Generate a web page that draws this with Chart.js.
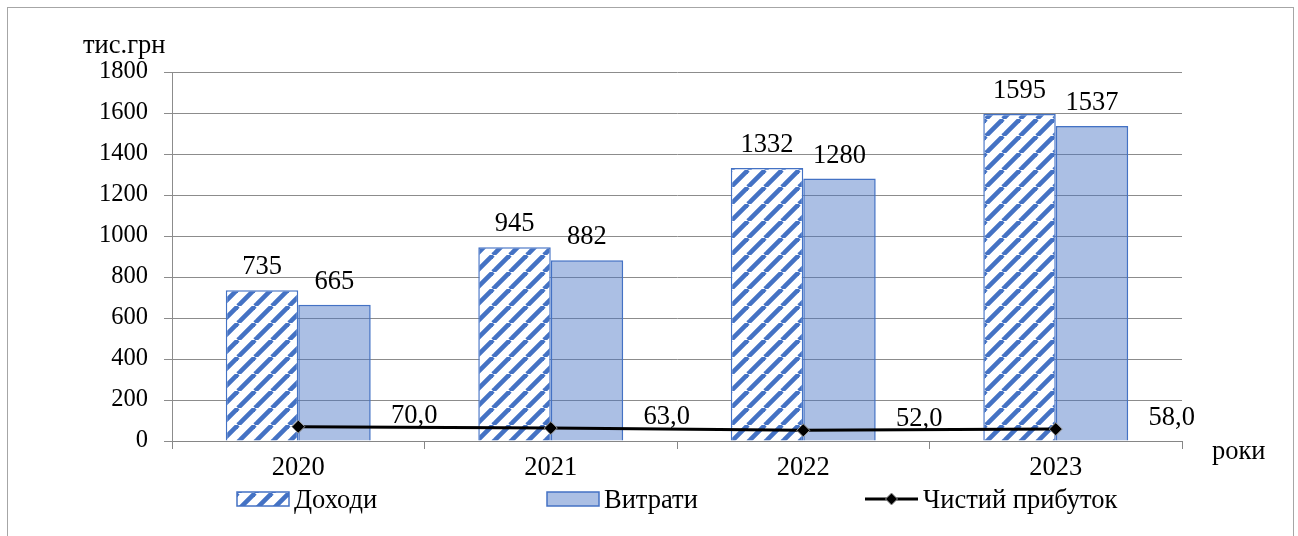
<!DOCTYPE html>
<html>
<head>
<meta charset="utf-8">
<script src="https://cdn.jsdelivr.net/npm/chart.js@4/dist/chart.umd.min.js"></script>
<style>
html,body{margin:0;padding:0;background:#fff;}
#wrap{width:1298px;height:536px;position:relative;}
</style>
</head>
<body>
<div id="wrap"><canvas id="c" width="1298" height="536"></canvas></div>
<script>
const categories = ['2020', '2021', '2022', '2023'];
const incomeLabel = 'Доходи';
const expenseLabel = 'Витрати';
const profitLabel = 'Чистий прибуток';
const incomes = [735, 945, 1332, 1595];
const expenses = [665, 882, 1280, 1537];
const profit = [70.0, 63.0, 52.0, 58.0];
const yAxisTitle = 'тис.грн';
const xAxisTitle = 'роки';
const yMin = 0, yMax = 1800, yStep = 200;

const FONT = '"Liberation Serif", "Times New Roman", serif';
const BLUE = '#4472c4';

function makeStripes() {
  const s = 17;
  const c = document.createElement('canvas');
  c.width = s; c.height = s;
  const g = c.getContext('2d');
  g.fillStyle = '#ffffff';
  g.fillRect(0, 0, s, s);
  g.strokeStyle = BLUE;
  g.lineWidth = 4.6;
  for (const k of [-s, 0, s]) {
    g.beginPath();
    g.moveTo(k, s);
    g.lineTo(k + s, 0);
    g.stroke();
  }
  return g.createPattern(c, 'repeat');
}
const stripes = makeStripes();
const expenseFill = 'rgba(68,114,196,0.45)';

const decor = {
  id: 'decor',
  beforeDraw(chart) {
    const ctx = chart.ctx;
    ctx.save();
    ctx.fillStyle = '#fff';
    ctx.fillRect(0, 0, chart.width, chart.height);
    ctx.strokeStyle = '#a6a6a6';
    ctx.lineWidth = 1;
    ctx.strokeRect(7.5, 7.5, 1286, 560);
    ctx.restore();
  },
  afterDatasetsDraw(chart) {
    const ctx = chart.ctx;
    ctx.save();
    ctx.fillStyle = '#000';
    ctx.font = '26.5px ' + FONT;
    ctx.textAlign = 'center';
    ctx.textBaseline = 'alphabetic';
    [0, 1].forEach(di => {
      const meta = chart.getDatasetMeta(di);
      const ds = chart.data.datasets[di];
      meta.data.forEach((el, i) => {
        ctx.fillText(String(ds.data[i]), el.x, el.y - 16);
      });
    });
    const lm = chart.getDatasetMeta(2);
    const lds = chart.data.datasets[2];
    lm.data.forEach((el, i) => {
      ctx.fillText(lds.data[i].toFixed(1).replace('.', ','), el.x + 116, el.y - 4);
    });
    // axis titles
    ctx.font = '26.5px ' + FONT;
    ctx.textAlign = 'left';
    ctx.fillText(yAxisTitle, 83, 53);
    ctx.fillText(xAxisTitle, 1212, 459);
    // legend
    const ly = 499;
    ctx.font = '26.5px ' + FONT;
    ctx.textBaseline = 'middle';
    const items = [
      {x: 237, tx: 294, kind: 'bar', fill: stripes, text: chart.data.datasets[0].label},
      {x: 547, tx: 604, kind: 'bar', fill: expenseFill, text: chart.data.datasets[1].label},
      {x: 865, tx: 923, kind: 'line', text: chart.data.datasets[2].label}
    ];
    items.forEach(it => {
      if (it.kind === 'bar') {
        ctx.fillStyle = '#fff';
        ctx.fillRect(it.x, ly - 7, 52, 14);
        ctx.fillStyle = it.fill;
        ctx.fillRect(it.x, ly - 7, 52, 14);
        ctx.strokeStyle = BLUE;
        ctx.lineWidth = 1.5;
        ctx.strokeRect(it.x, ly - 7, 52, 14);
      } else {
        ctx.strokeStyle = '#000';
        ctx.lineWidth = 3;
        ctx.beginPath();
        ctx.moveTo(it.x, ly); ctx.lineTo(it.x + 53, ly);
        ctx.stroke();
        const cx = it.x + 26.5;
        ctx.fillStyle = '#000';
        ctx.strokeStyle = '#9a9a9a';
        ctx.lineWidth = 1;
        ctx.beginPath();
        ctx.moveTo(cx, ly - 6); ctx.lineTo(cx + 6, ly); ctx.lineTo(cx, ly + 6); ctx.lineTo(cx - 6, ly);
        ctx.closePath(); ctx.fill(); ctx.stroke();
      }
      ctx.fillStyle = '#000';
      ctx.textAlign = 'left';
      ctx.fillText(it.text, it.tx, ly + 2);
    });
    ctx.restore();
  }
};

new Chart(document.getElementById('c'), {
  type: 'bar',
  data: {
    labels: categories,
    datasets: [
      {label: incomeLabel, data: incomes, backgroundColor: stripes, borderColor: BLUE, borderWidth: 1.5, order: 1},
      {label: expenseLabel, data: expenses, backgroundColor: expenseFill, borderColor: BLUE, borderWidth: 1.5, order: 2},
      {type: 'line', label: profitLabel, data: profit, borderColor: '#000', borderWidth: 3,
       pointStyle: 'rectRot', pointRadius: 6.5, pointBackgroundColor: '#000', pointBorderColor: '#9a9a9a',
       pointBorderWidth: 1, tension: 0, fill: false, order: 0}
    ]
  },
  options: {
    responsive: false,
    animation: false,
    events: [],
    layout: {padding: {left: 0, right: 116, top: 72, bottom: 0}},
    datasets: {bar: {barPercentage: 1, categoryPercentage: 0.574}},
    plugins: {legend: {display: false}, tooltip: {enabled: false}},
    scales: {
      x: {
        grid: {drawOnChartArea: false, drawTicks: true, tickLength: 8, color: '#868686', offset: true},
        border: {color: '#868686', width: 1},
        ticks: {color: '#000', font: {family: FONT, size: 26.5}, padding: 3},
        afterFit(s) { s.height = 95; }
      },
      y: {
        min: yMin, max: yMax,
        grid: {color: '#8c8c8c', tickLength: 8, drawTicks: true},
        border: {color: '#8c8c8c', width: 1},
        ticks: {stepSize: yStep, color: '#000', font: {family: FONT, size: 24.5}, padding: 16,
                callback: v => String(v)},
        afterFit(s) { s.width = 172; }
      }
    }
  },
  plugins: [decor]
});
</script>
</body>
</html>
